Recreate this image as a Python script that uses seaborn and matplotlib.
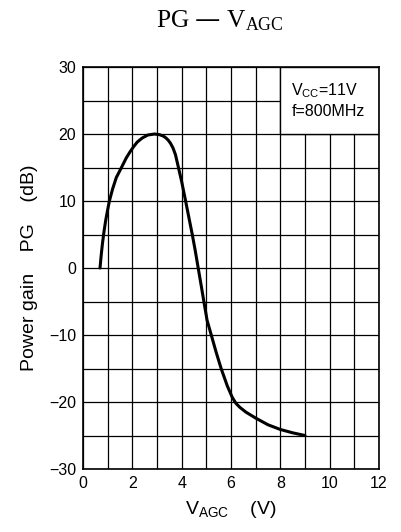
import numpy as np
import pandas as pd
import seaborn as sns
import matplotlib.pyplot as plt
from matplotlib.patches import Rectangle

# PG vs V_AGC curve
v_agc = [0.69, 0.74, 0.79, 0.85, 0.92, 1.0, 1.07, 1.2, 1.35, 1.56, 1.75, 1.9, 2.05,
         2.2, 2.4, 2.63, 2.9, 3.1, 3.25, 3.35, 3.45, 3.55, 3.65, 3.75, 3.85, 4.0,
         4.16, 4.3, 4.43, 4.55, 4.67, 4.8, 4.9, 5.03, 5.2, 5.4, 5.6, 5.85, 6.05,
         6.2, 6.36, 6.6, 7.0, 7.5, 8.0, 8.5, 9.0]
pg = [0.0, 2.0, 3.7, 5.4, 7.1, 8.7, 10.0, 11.8, 13.5, 15.0, 16.4, 17.3, 18.1,
      18.8, 19.4, 19.85, 20.0, 19.9, 19.7, 19.45, 19.1, 18.6, 17.9, 16.9, 15.3, 12.9,
      10.0, 7.4, 5.0, 2.6, 0.0, -2.8, -5.0, -7.8, -10.0, -12.6, -15.0, -17.6, -19.3,
      -20.2, -20.8, -21.5, -22.4, -23.4, -24.1, -24.6, -25.0]

x_ticks = [0, 2, 4, 6, 8, 10, 12]
y_ticks = [-30, -20, -10, 0, 10, 20, 30]

df = pd.DataFrame({'VAGC': v_agc, 'PG': pg})

sns.set_style('white')
plt.rcParams['font.family'] = ['Liberation Sans', 'DejaVu Sans']
plt.rcParams['text.color'] = 'black'
plt.rcParams['axes.labelcolor'] = 'black'
plt.rcParams['xtick.color'] = 'black'
plt.rcParams['ytick.color'] = 'black'

fig = plt.figure(figsize=(4.01, 5.32), dpi=100)
ax = fig.add_axes([83 / 401, 1 - 469 / 532, 296 / 401, 402 / 532])

ax.set_xlim(0, 12)
ax.set_ylim(-30, 30)
ax.set_xticks(range(0, 13))
ax.set_yticks(range(-30, 31, 5))
ax.grid(True, color='black', linewidth=0.9, zorder=1)
ax.set_axisbelow(True)

# tick labels only on every other line
ax.set_xticklabels([str(t) if t in x_ticks else '' for t in range(0, 13)], fontsize=11.5)
ax.set_yticklabels([('\u2212' + str(-t) if t < 0 else str(t)) if t in y_ticks else ''
                    for t in range(-30, 31, 5)], fontsize=11.5)
ax.tick_params(length=0, pad=5)

for s in ax.spines.values():
    s.set_color('black')
    s.set_linewidth(1.2)

# condition box in the upper right corner
ax.add_patch(Rectangle((8, 20), 4, 10, facecolor='white', edgecolor='black',
                       linewidth=1.0, zorder=2))
ax.text(8.45, 26.5, r'$\mathregular{V_{CC}}$=11V', fontsize=11.5, va='center', zorder=3)
ax.text(8.45, 23.4, 'f=800MHz', fontsize=11.5, va='center', zorder=3)

sns.lineplot(data=df, x='VAGC', y='PG', ax=ax, color='black', linewidth=2.2,
             sort=False, zorder=4)

ax.set_xlabel(r'$\mathregular{V_{AGC}}$    (V)', fontsize=14, labelpad=6)
ax.set_ylabel('Power gain    PG    (dB)', fontsize=14, labelpad=8)

fig.text(220 / 401, 1 - 21 / 532, r'PG — $\mathregular{V_{AGC}}$', ha='center', va='center',
         fontsize=18.3, family=['Liberation Serif', 'DejaVu Serif'])

fig.savefig('out.png', dpi=100)
